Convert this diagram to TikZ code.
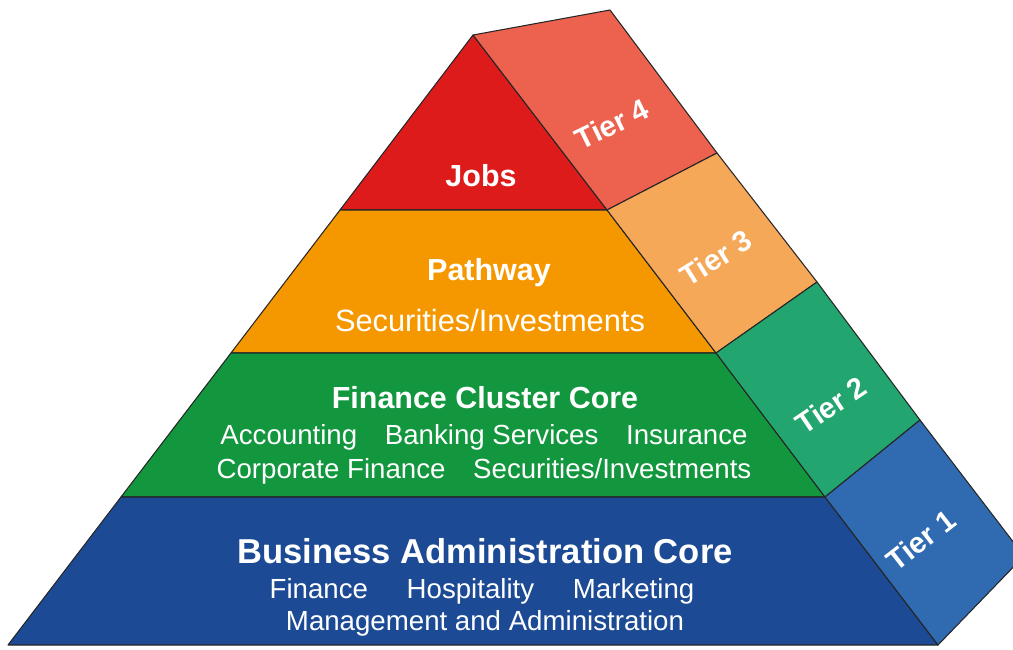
\documentclass[tikz,border=0pt]{standalone}
\usepackage{fontspec}
\setmainfont{Liberation Sans}
\usepackage{xcolor}
\usepackage{tikz}
\usetikzlibrary{positioning}
\definecolor{jobsred}{RGB}{222,27,27}
\definecolor{tierfour}{RGB}{236,98,78}
\definecolor{pathorange}{RGB}{245,152,0}
\definecolor{tierthree}{RGB}{245,168,88}
\definecolor{clustergreen}{RGB}{18,150,62}
\definecolor{tiertwo}{RGB}{35,165,112}
\definecolor{coreblue}{RGB}{28,74,148}
\definecolor{tierone}{RGB}{48,106,176}

\begin{document}
\begin{tikzpicture}[
    x=0.03cm, y=-0.03cm,
    face/.style={draw=black!85, line width=0.9pt, line join=round},
    heading/.style={text=white, inner sep=0pt, font=\bfseries\fontsize{26}{30}\selectfont},
    subline/.style={text=white, inner sep=0pt, font=\fontsize{23.6}{27}\selectfont},
    tierlabel/.style={text=white, inner sep=0pt, font=\bfseries\fontsize{25}{29}\selectfont}
]
\useasboundingbox (0,0) rectangle (1013,650);
\clip (0,0) rectangle (1013,650);

% front corners, top to bottom
\coordinate (apex) at (473,35);
\coordinate (l1) at (340,210);  \coordinate (r1) at (607,210);
\coordinate (l2) at (231,353);  \coordinate (r2) at (716,353);
\coordinate (l3) at (121,497);  \coordinate (r3) at (825,497);
\coordinate (l4) at (8,645);    \coordinate (r4) at (938,645);
% back edge of the side face
\coordinate (b0) at (610,10);
\coordinate (b1) at (717,153);
\coordinate (b2) at (817,282);
\coordinate (b3) at (920,420);
\coordinate (b4) at (1024,556);

% front face
\filldraw[face, fill=jobsred] (apex) -- (r1) -- (l1) -- cycle;
\filldraw[face, fill=pathorange] (l1) -- (r1) -- (r2) -- (l2) -- cycle;
\filldraw[face, fill=clustergreen] (l2) -- (r2) -- (r3) -- (l3) -- cycle;
\filldraw[face, fill=coreblue] (l3) -- (r3) -- (r4) -- (l4) -- cycle;

% side face
\filldraw[face, fill=tierfour] (apex) -- (b0) -- (b1) -- (r1) -- cycle;
\filldraw[face, fill=tierthree] (r1) -- (b1) -- (b2) -- (r2) -- cycle;
\filldraw[face, fill=tiertwo] (r2) -- (b2) -- (b3) -- (r3) -- cycle;
\filldraw[face, fill=tierone] (r3) -- (b3) -- (b4) -- (r4) -- cycle;

% front labels
\node[heading] (jobs) at (481,176) {Jobs};
\node[heading] (pathway) at (489,273) {Pathway};
\node[subline, font=\fontsize{26.3}{30}\selectfont] (pathsub) at (490,320) {Securities/Investments};
\node[heading] (cluster) at (485,398) {Finance Cluster Core};
\node[subline] (clustera) at (484,437) {Accounting\quad Banking Services\quad Insurance};
\node[subline] (clusterb) at (484,471) {Corporate Finance\quad Securities/Investments};
\node[heading, font=\bfseries\fontsize{29.5}{33}\selectfont] (core) at (485,551) {Business Administration Core};
\node[subline] (corea) at (482,591) {Finance\hspace{1.4em}Hospitality\hspace{1.4em}Marketing};
\node[subline] (coreb) at (485,623) {Management and Administration};

% side labels
\node[tierlabel, rotate=26] (tier4) at (612,124) {Tier 4};
\node[tierlabel, rotate=32] (tier3) at (716,258) {Tier 3};
\node[tierlabel, rotate=34] (tier2) at (831,405) {Tier 2};
\node[tierlabel, rotate=38] (tier1) at (921,540) {Tier 1};

\end{tikzpicture}
\end{document}
